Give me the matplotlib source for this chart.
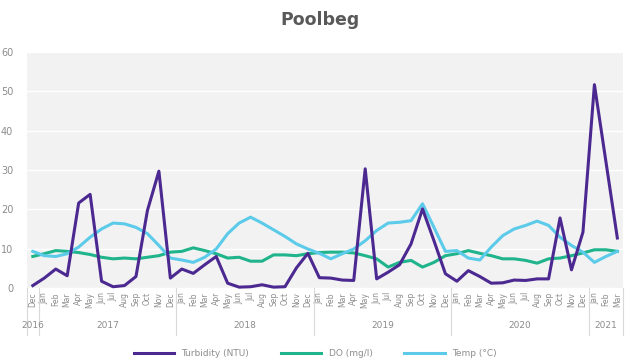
import matplotlib
matplotlib.use("Agg")
import matplotlib.pyplot as plt

# monthly samples, Dec 2016 .. Mar 2021
months = (["Dec"]
          + ["Jan", "Feb", "Mar", "Apr", "May", "Jun", "Jul", "Aug", "Sep", "Oct", "Nov", "Dec"] * 4
          + ["Jan", "Feb", "Mar"])
years = ["2016", "2017", "2018", "2019", "2020", "2021"]
year_counts = [1, 12, 12, 12, 12, 3]

turbidity = [0.6, 2.5, 4.8, 3.1, 21.6, 23.8, 1.7, 0.3, 0.6, 2.9, 19.7, 29.7,
             2.5, 4.8, 3.7, 5.9, 8.0, 1.2, 0.2, 0.3, 0.8, 0.2, 0.3, 5.1,
             8.8, 2.6, 2.5, 2.0, 1.9, 30.3, 2.3, 4.0, 5.9, 11.2, 20.1, 12.0,
             3.6, 1.7, 4.4, 2.9, 1.2, 1.3, 2.0, 1.9, 2.3, 2.3, 17.8, 4.6,
             14.2, 51.7, 32.2, 12.7]
do = [8.0, 8.7, 9.5, 9.3, 9.0, 8.5, 7.8, 7.4, 7.6, 7.4, 7.8, 8.2,
      9.1, 9.3, 10.2, 9.5, 8.7, 7.6, 7.8, 6.8, 6.8, 8.4, 8.4, 8.2,
      8.7, 9.0, 9.1, 9.1, 8.9, 8.2, 7.4, 5.3, 6.5, 7.0, 5.3, 6.5,
      8.2, 8.7, 9.5, 8.8, 8.2, 7.4, 7.4, 7.0, 6.3, 7.4, 7.6, 8.2,
      8.9, 9.7, 9.7, 9.3]
temp = [9.3, 8.2, 8.0, 8.7, 10.4, 12.9, 15.0, 16.5, 16.3, 15.4, 13.8, 10.8,
        7.6, 7.1, 6.5, 7.8, 9.9, 13.8, 16.5, 18.0, 16.5, 14.8, 13.1, 11.2,
        9.9, 8.8, 7.4, 8.7, 9.9, 12.0, 14.6, 16.5, 16.7, 17.1, 21.4, 15.4,
        9.3, 9.5, 7.6, 7.1, 10.4, 13.3, 15.0, 15.9, 17.0, 15.9, 12.9, 10.8,
        9.1, 6.5, 8.0, 9.3]

x = list(range(len(months)))

fig = plt.figure(figsize=(6.3, 3.64), dpi=100)
ax = fig.add_axes([0.043, 0.209, 0.946, 0.648])
ax.set_facecolor("#f2f2f2")

ax.plot(x, turbidity, color="#4b2991", lw=2.2, label="Turbidity (NTU)", clip_on=False, zorder=4)
ax.plot(x, do, color="#1fb48b", lw=2.2, label="DO (mg/l)", clip_on=False, zorder=3)
ax.plot(x, temp, color="#5ccbea", lw=2.2, label="Temp (°C)", clip_on=False, zorder=3)

ax.set_ylim(0, 60)
ax.set_xlim(-0.5, len(months) - 0.5)
ax.set_yticks(range(0, 61, 10))
ax.yaxis.grid(True, color="white", lw=1)
ax.set_axisbelow(True)
for s in ax.spines.values():
    s.set_visible(False)
ax.tick_params(axis="y", length=0, labelsize=7, labelcolor="#8c8c8c", pad=10)

ax.set_xticks(x)
ax.set_xticklabels(months, rotation=90, fontsize=5.5, color="#8c8c8c")
ax.tick_params(axis="x", length=0, pad=3)

# year groups under the month labels
trans = ax.get_xaxis_transform()
start = 0
for yr, n in zip(years, year_counts):
    ax.text(start + (n - 1) / 2, -0.16, yr, transform=trans, ha="center", va="center",
            fontsize=6.5, color="#8c8c8c")
    if start > 0:
        ax.plot([start - 0.5, start - 0.5], [0, -0.2], transform=trans, color="#d9d9d9",
                lw=0.8, clip_on=False)
    start += n
for edge in [-0.5, len(months) - 0.5]:
    ax.plot([edge, edge], [0, -0.2], transform=trans, color="#d9d9d9", lw=0.8, clip_on=False)

fig.text(0.508, 0.945, "Poolbeg", ha="center", va="center", fontsize=12.5,
         fontweight="bold", color="#595959")

fig.legend(loc="lower center", bbox_to_anchor=(0.5, -0.005), ncol=3, frameon=False,
           fontsize=6.5, handlelength=4.5, columnspacing=3.5, labelcolor="#8c8c8c")

fig.savefig("out.png", dpi=100, facecolor="white")
